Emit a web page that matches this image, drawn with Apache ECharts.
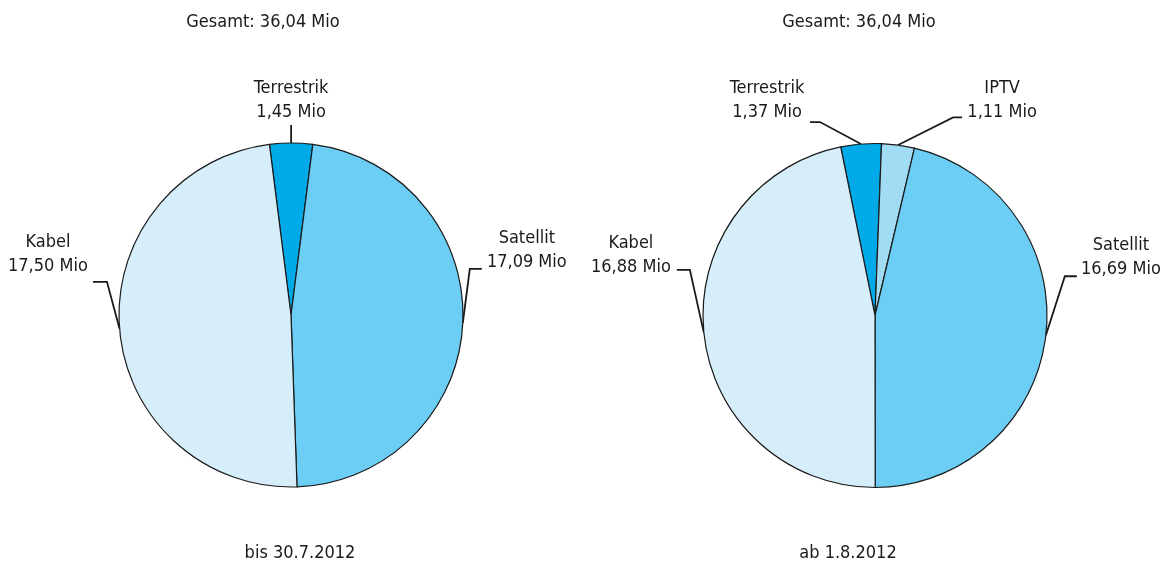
<!DOCTYPE html>
<html><head><meta charset="utf-8">
<script src="https://cdn.jsdelivr.net/npm/echarts@6/dist/echarts.min.js"></script>
<style>html,body{margin:0;padding:0;background:#fff}#c{width:1162px;height:563px}</style>
</head><body><div id="c"></div>
<script>
const leftCategories = ['Terrestrik', 'Satellit', 'Kabel'];
const leftValues = [1.45, 17.09, 17.50];
const rightCategories = ['Terrestrik', 'IPTV', 'Satellit', 'Kabel'];
const rightValues = [1.37, 1.11, 16.69, 16.88];
const totalLabels = ['Gesamt: 36,04 Mio', 'Gesamt: 36,04 Mio'];
const periodLabels = ['bis 30.7.2012', 'ab 1.8.2012'];

const FONT = '"Liberation Sans Narrow", "DejaVu Sans Condensed", sans-serif';
const colors = { 'Kabel': '#d6eefa', 'Satellit': '#6ccef5', 'Terrestrik': '#00aae9', 'IPTV': '#a2dbf4' };

// label geometry offsets relative to the slice edge point: [labelDx, labelDy, bendDx, bendDy, endDx]
const layoutLeft = {
  'Terrestrik': [0, -42.5, 0, -18, 0],
  'Kabel': [-71.6, -74, -12.6, -47, -26.6],
  'Satellit': [64, -72.5, 7, -54, 19]
};
const layoutRight = {
  'Terrestrik': [-94, -43.5, -41, -22, -51],
  'IPTV': [104, -45, 55, -27.6, 64],
  'Kabel': [-73, -78, -14, -63, -27],
  'Satellit': [75, -78, 19, -59, 31]
};

function fmt(v) { return v.toFixed(2).replace('.', ',') + ' Mio'; }

function makeSeries(cats, vals, center, startAngle, layout) {
  return {
    type: 'pie',
    center: center,
    radius: 172,
    startAngle: startAngle,
    clockwise: true,
    avoidLabelOverlap: false,
    animation: false,
    silent: true,
    data: cats.map((c, i) => ({ name: c, value: vals[i], itemStyle: { color: colors[c] } })),
    itemStyle: { borderColor: '#1a1a1a', borderWidth: 1.2 },
    label: {
      show: true, position: 'outside',
      formatter: p => p.name + '\n' + fmt(p.value),
      fontFamily: FONT, fontSize: 18, color: '#1a1a1a', lineHeight: 24, align: 'center'
    },
    labelLine: { show: true, length: 10, length2: 10, lineStyle: { color: '#1a1a1a', width: 1.8 } },
    labelLayout: function (params) {
      const name = cats[params.dataIndex];
      const o = layout[name];
      const p0 = params.labelLinePoints ? params.labelLinePoints[0] : [0, 0];
      return {
        x: p0[0] + o[0], y: p0[1] + o[1], align: 'center', verticalAlign: 'middle',
        labelLinePoints: [[p0[0], p0[1]], [p0[0] + o[2], p0[1] + o[3]], [p0[0] + o[4], p0[1] + o[3]]]
      };
    }
  };
}

const chart = echarts.init(document.getElementById('c'), null, { renderer: 'canvas' });
const ts = { fontFamily: FONT, fontSize: 18, color: '#1a1a1a', fontWeight: 'normal' };
chart.setOption({
  backgroundColor: '#fff',
  animation: false,
  title: [
    { text: totalLabels[0], left: 258, top: 8, textAlign: 'center', textStyle: ts },
    { text: totalLabels[1], left: 854, top: 8, textAlign: 'center', textStyle: ts },
    { text: periodLabels[0], left: 295, top: 539, textAlign: 'center', textStyle: ts },
    { text: periodLabels[1], left: 843, top: 539, textAlign: 'center', textStyle: ts }
  ],
  series: [
    makeSeries(leftCategories, leftValues, [291, 315], 97.2, layoutLeft),
    makeSeries(rightCategories, rightValues, [875, 315.5], 101.5, layoutRight)
  ]
});
</script></body></html>
